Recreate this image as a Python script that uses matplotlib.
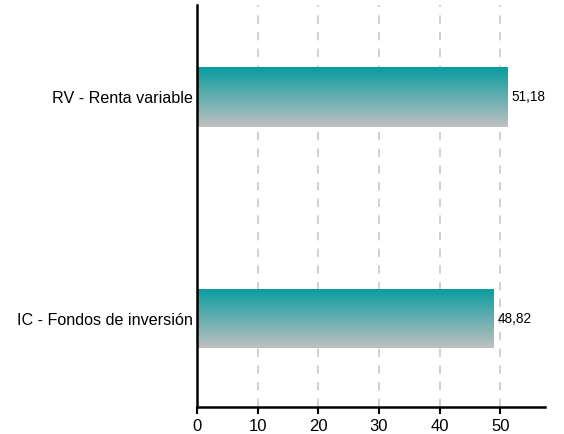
import matplotlib
matplotlib.use('Agg')
import matplotlib.pyplot as plt
import numpy as np
from matplotlib.colors import LinearSegmentedColormap

categories = ["IC - Fondos de inversión", "RV - Renta variable"]
values = [48.82, 51.18]
value_labels = ["48,82", "51,18"]
xticks = [0, 10, 20, 30, 40, 50]

plt.rcParams['font.family'] = ['Liberation Sans', 'DejaVu Sans']

fig = plt.figure(figsize=(5.64, 4.34), dpi=100)
ax = fig.add_axes([0.349, 0.062, 0.618, 0.926])

cmap = LinearSegmentedColormap.from_list("tealgray", ["#c0c0c0", "#089ca0"])
grad = np.linspace(0, 1, 256).reshape(-1, 1)

bar_h = 0.27
bars = ax.barh(range(len(categories)), values, height=bar_h, color='none', edgecolor='none', zorder=3)
for bar, lab in zip(bars, value_labels):
    x0, y0 = bar.get_x(), bar.get_y()
    w, h = bar.get_width(), bar.get_height()
    im = ax.imshow(grad, cmap=cmap, aspect='auto', origin='lower',
                   extent=[x0, x0 + w, y0, y0 + h], zorder=3)
    im.set_clip_path(bar)
    ax.text(x0 + w + 0.7, y0 + h / 2, lab, va='center', ha='left', fontsize=9.8, zorder=4)

ax.set_xlim(0, 57.4)
ax.set_ylim(-0.40, 1.416)
ax.set_yticks(range(len(categories)))
ax.set_yticklabels(categories, fontsize=11.6)
ax.set_xticks(xticks)
ax.tick_params(axis='x', labelsize=12, length=5, width=1.5, direction='out', color='black')
ax.tick_params(axis='y', length=0, pad=2.5)

for xv in xticks:
    ax.axvline(xv, color='#c8c8c8', linestyle=(0, (5, 5)), linewidth=1.2, zorder=1)

for s in ['top', 'right']:
    ax.spines[s].set_visible(False)
ax.spines['left'].set_linewidth(1.8)
ax.spines['bottom'].set_linewidth(1.8)
ax.spines['left'].set_zorder(5)

plt.savefig('out.png', dpi=100)
